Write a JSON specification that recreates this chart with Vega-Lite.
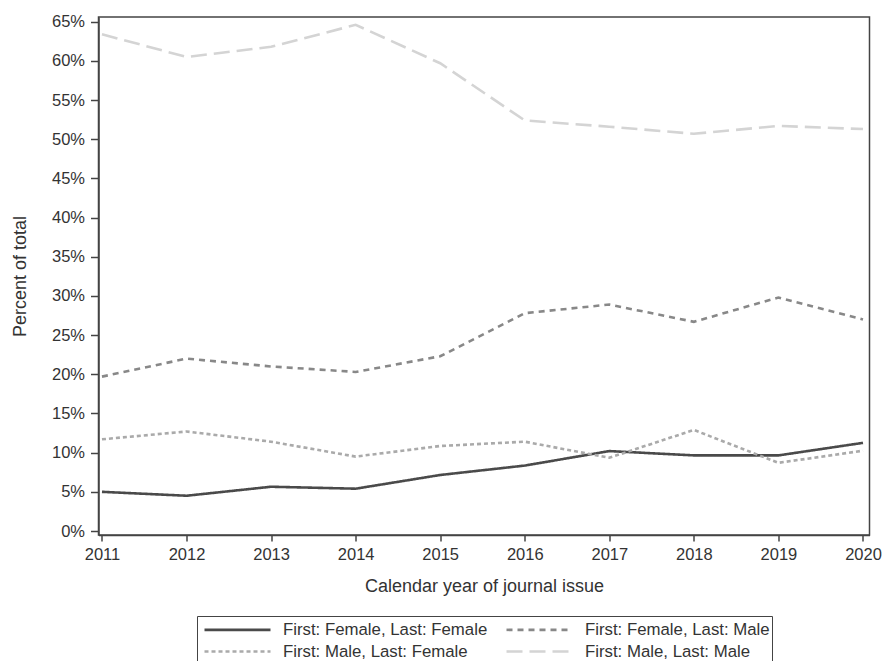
{
  "$schema": "https://vega.github.io/schema/vega-lite/v6.json",
  "width": 771,
  "height": 518,
  "autosize": "none",
  "padding": {"left": 98.5, "top": 17, "right": 14.5, "bottom": 126},
  "background": "white",
  "config": {
    "view": {"stroke": "#444444", "strokeWidth": 1.5},
    "font": "Liberation Sans",
    "axis": {
      "labelFont": "Liberation Sans",
      "titleFont": "Liberation Sans",
      "labelColor": "#333333",
      "titleColor": "#333333",
      "domainColor": "#444444",
      "tickColor": "#444444",
      "domainWidth": 1.5,
      "tickWidth": 1.5,
      "grid": false,
      "labelFontSize": 16.5,
      "titleFontSize": 18,
      "titleFontWeight": "normal"
    },
    "legend": {
      "title": null,
      "orient": "none",
      "legendX": 98.5,
      "legendY": 599,
      "direction": "horizontal",
      "columns": 2,
      "columnPadding": 13,
      "rowPadding": 1,
      "padding": 2,
      "strokeColor": "#444444",
      "symbolType": "M-0.6,0H6",
      "symbolSize": 400,
      "symbolStrokeWidth": 2.6,
      "labelFont": "Liberation Sans",
      "labelFontSize": 16.8,
      "labelColor": "#333333",
      "labelOffset": 61,
      "labelLimit": 400
    }
  },
  "data": {
    "values": [
      {"year": 2011, "group": "First: Female, Last: Female", "pct": 0.050},
      {"year": 2012, "group": "First: Female, Last: Female", "pct": 0.045},
      {"year": 2013, "group": "First: Female, Last: Female", "pct": 0.0565},
      {"year": 2014, "group": "First: Female, Last: Female", "pct": 0.054},
      {"year": 2015, "group": "First: Female, Last: Female", "pct": 0.0715},
      {"year": 2016, "group": "First: Female, Last: Female", "pct": 0.0835},
      {"year": 2017, "group": "First: Female, Last: Female", "pct": 0.102},
      {"year": 2018, "group": "First: Female, Last: Female", "pct": 0.0965},
      {"year": 2019, "group": "First: Female, Last: Female", "pct": 0.0965},
      {"year": 2020, "group": "First: Female, Last: Female", "pct": 0.1125},
      {"year": 2011, "group": "First: Female, Last: Male", "pct": 0.197},
      {"year": 2012, "group": "First: Female, Last: Male", "pct": 0.220},
      {"year": 2013, "group": "First: Female, Last: Male", "pct": 0.210},
      {"year": 2014, "group": "First: Female, Last: Male", "pct": 0.203},
      {"year": 2015, "group": "First: Female, Last: Male", "pct": 0.223},
      {"year": 2016, "group": "First: Female, Last: Male", "pct": 0.278},
      {"year": 2017, "group": "First: Female, Last: Male", "pct": 0.289},
      {"year": 2018, "group": "First: Female, Last: Male", "pct": 0.267},
      {"year": 2019, "group": "First: Female, Last: Male", "pct": 0.298},
      {"year": 2020, "group": "First: Female, Last: Male", "pct": 0.270},
      {"year": 2011, "group": "First: Male, Last: Female", "pct": 0.117},
      {"year": 2012, "group": "First: Male, Last: Female", "pct": 0.127},
      {"year": 2013, "group": "First: Male, Last: Female", "pct": 0.114},
      {"year": 2014, "group": "First: Male, Last: Female", "pct": 0.095},
      {"year": 2015, "group": "First: Male, Last: Female", "pct": 0.1085},
      {"year": 2016, "group": "First: Male, Last: Female", "pct": 0.114},
      {"year": 2017, "group": "First: Male, Last: Female", "pct": 0.0935},
      {"year": 2018, "group": "First: Male, Last: Female", "pct": 0.129},
      {"year": 2019, "group": "First: Male, Last: Female", "pct": 0.087},
      {"year": 2020, "group": "First: Male, Last: Female", "pct": 0.1025},
      {"year": 2011, "group": "First: Male, Last: Male", "pct": 0.634},
      {"year": 2012, "group": "First: Male, Last: Male", "pct": 0.605},
      {"year": 2013, "group": "First: Male, Last: Male", "pct": 0.618},
      {"year": 2014, "group": "First: Male, Last: Male", "pct": 0.646},
      {"year": 2015, "group": "First: Male, Last: Male", "pct": 0.597},
      {"year": 2016, "group": "First: Male, Last: Male", "pct": 0.524},
      {"year": 2017, "group": "First: Male, Last: Male", "pct": 0.516},
      {"year": 2018, "group": "First: Male, Last: Male", "pct": 0.507},
      {"year": 2019, "group": "First: Male, Last: Male", "pct": 0.517},
      {"year": 2020, "group": "First: Male, Last: Male", "pct": 0.513}
    ]
  },
  "mark": {"type": "line", "strokeWidth": 2.6, "strokeCap": "butt"},
  "encoding": {
    "x": {
      "field": "year",
      "type": "quantitative",
      "scale": {"domain": [2010.959, 2020.077], "nice": false, "zero": false},
      "axis": {
        "values": [2011, 2012, 2013, 2014, 2015, 2016, 2017, 2018, 2019, 2020],
        "format": "d",
        "title": "Calendar year of journal issue",
        "tickSize": 6,
        "labelPadding": 5,
        "titlePadding": 15,
        "labelFlush": false
      }
    },
    "y": {
      "field": "pct",
      "type": "quantitative",
      "scale": {"domain": [-0.0051, 0.656], "nice": false, "zero": false},
      "axis": {
        "values": [0, 0.05, 0.1, 0.15, 0.2, 0.25, 0.3, 0.35, 0.4, 0.45, 0.5, 0.55, 0.6, 0.65],
        "format": ".0%",
        "title": "Percent of total",
        "tickSize": 8,
        "labelPadding": 6,
        "titlePadding": 22
      }
    },
    "color": {
      "field": "group",
      "type": "nominal",
      "scale": {
        "domain": ["First: Female, Last: Female", "First: Female, Last: Male", "First: Male, Last: Female", "First: Male, Last: Male"],
        "range": ["#4a4a4a", "#888888", "#aaaaaa", "#d4d4d4"]
      }
    },
    "strokeDash": {
      "field": "group",
      "type": "nominal",
      "scale": {
        "domain": ["First: Female, Last: Female", "First: Female, Last: Male", "First: Male, Last: Female", "First: Male, Last: Male"],
        "range": [[1, 0], [6, 5], [4, 3], [16, 7]]
      }
    }
  }
}
